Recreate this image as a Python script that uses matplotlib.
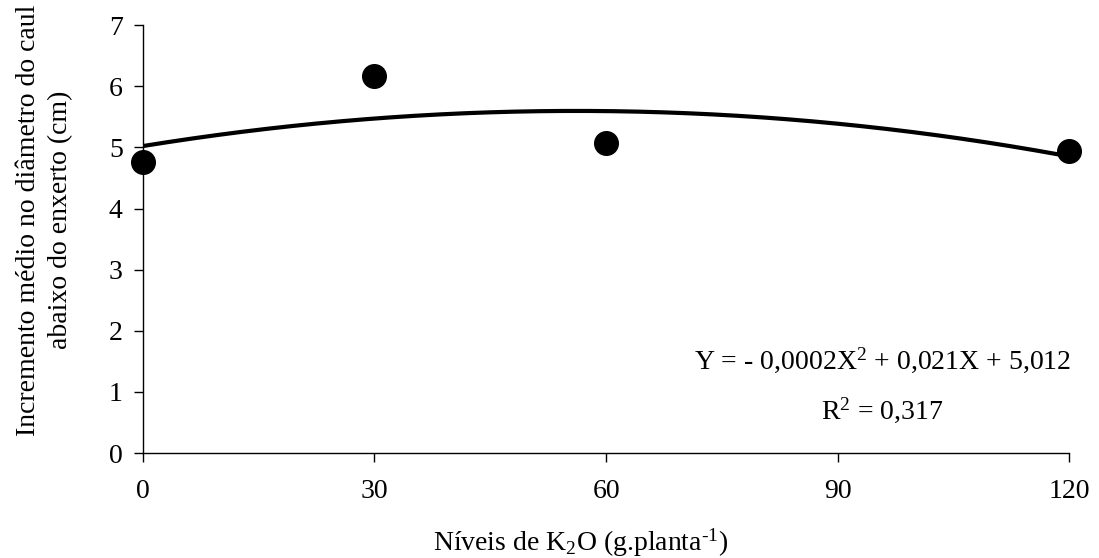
import numpy as np
import matplotlib
matplotlib.use("Agg")
import matplotlib.pyplot as plt

plt.rcParams['font.family'] = ['Liberation Serif', 'DejaVu Serif']
plt.rcParams['mathtext.fontset'] = 'custom'
plt.rcParams['mathtext.rm'] = 'Liberation Serif'
plt.rcParams['mathtext.it'] = 'Liberation Serif:italic'

# Data
k2o_levels = [0, 30, 60, 120]
incremento = [4.76, 6.17, 5.07, 4.94]
x_ticks = [0, 30, 60, 90, 120]
y_ticks = [0, 1, 2, 3, 4, 5, 6, 7]

fig = plt.figure(figsize=(10.99, 5.58), dpi=100)
ax = fig.add_axes([0.130, 0.188, 0.843, 0.767])

coef = np.polyfit(k2o_levels, incremento, 2)
xs = np.linspace(0, 120, 300)
ax.plot(xs, np.polyval(coef, xs), color='black', lw=3.0, zorder=2)
ax.plot(k2o_levels, incremento, 'o', color='black', ms=17, zorder=3, clip_on=False)

ax.set_xlim(0, 120)
ax.set_ylim(0, 7)
ax.set_xticks(x_ticks)
ax.set_yticks(y_ticks)
ax.spines['top'].set_visible(False)
ax.spines['right'].set_visible(False)
for s in ['left', 'bottom']:
    ax.spines[s].set_linewidth(1.0)
ax.tick_params(axis='both', direction='out', length=6.5, width=1.0, labelsize=20, colors='black')
ax.tick_params(axis='x', pad=12)
ax.tick_params(axis='y', pad=8)

ax.set_xlabel('Níveis de K$_2$O (g.planta$^{\u2010 1}$)', fontsize=20)
ax.xaxis.set_label_coords(0.472, -0.172)
ax.set_ylabel('Incremento médio no diâmetro do caul\nabaixo do enxerto (cm)', fontsize=20,
              linespacing=1.4)
ax.yaxis.set_label_coords(-0.075, 0.544)

fig.text(0.803, 0.355, 'Y = - 0,0002X$^2$ + 0,021X + 5,012',
         ha='center', va='center', fontsize=20)
fig.text(0.803, 0.265, 'R$^2$ = 0,317',
         ha='center', va='center', fontsize=20)

fig.savefig('out.png', dpi=100)
